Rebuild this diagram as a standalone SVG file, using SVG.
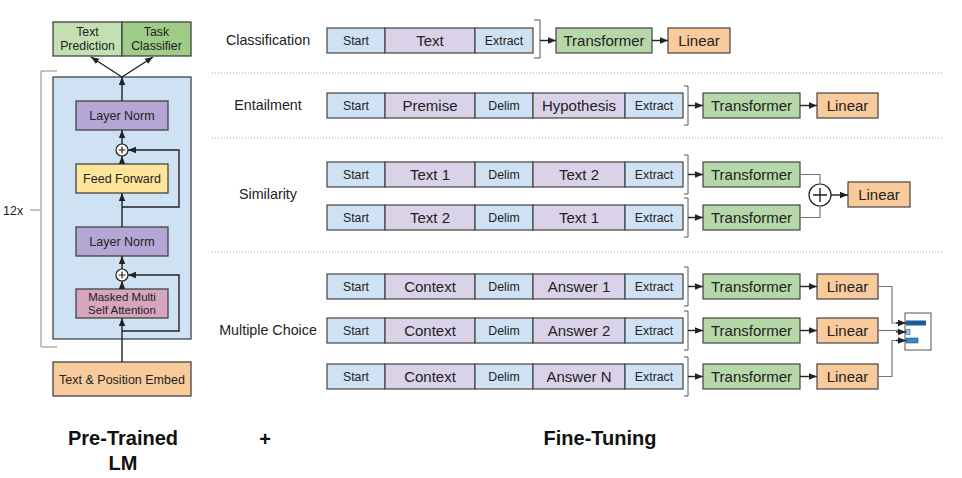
<svg xmlns="http://www.w3.org/2000/svg" width="962" height="478" viewBox="0 0 962 478">
<style>
  text { font-family: "Liberation Sans", Arial, sans-serif; fill: #222; }
  .box { stroke: #434343; stroke-width: 1.3; }
  .seg { fill: #cfe2f3; stroke: #434343; stroke-width: 1.2; }
  .segp { fill: #d9d2e9; stroke: #434343; stroke-width: 1.2; }
  .tr { fill: #b6d7a8; stroke: #434343; stroke-width: 1.2; }
  .lin { fill: #f9cb9c; stroke: #434343; stroke-width: 1.2; }
  .s12 { font-size: 12.3px; }
  .s14 { font-size: 15px; }
  .s13 { font-size: 12.5px; }
  .lbl { font-size: 14.3px; }
  .title { font-size: 20px; font-weight: bold; fill: #111; }
  .conn { fill: none; stroke: #222; stroke-width: 1.4; }
  .gconn { fill: none; stroke: #777; stroke-width: 1.2; }
  .brk { fill: none; stroke: #555; stroke-width: 1; }
  .sep { stroke: #aaa; stroke-width: 1; stroke-dasharray: 1 2; }
</style>
<defs>
  <marker id="ah" viewBox="0 0 10 10" refX="10" refY="5" markerWidth="8" markerHeight="8" markerUnits="userSpaceOnUse" orient="auto">
    <path d="M0,1 L10,5 L0,9 Z" fill="#222"/>
  </marker>
</defs>

<!-- ===== Left: pre-trained LM ===== -->
<g id="outputs">
  <rect x="53" y="22" width="69" height="34" fill="#c3e0b3" class="box"/>
  <rect x="122" y="22" width="69" height="34" fill="#9fcc87" class="box"/>
  <text x="87.5" y="36" text-anchor="middle" class="s12">Text</text>
  <text x="87.5" y="50" text-anchor="middle" class="s12">Prediction</text>
  <text x="156.5" y="36" text-anchor="middle" class="s12">Task</text>
  <text x="156.5" y="50" text-anchor="middle" class="s12">Classifier</text>
</g>
<g id="repeat-bracket">
  <path d="M57,71 H41 V347 H57" fill="none" stroke="#888" stroke-width="1"/>
  <line x1="30" y1="210" x2="40" y2="210" stroke="#888" stroke-width="1"/>
  <text x="3" y="214.5" font-size="12.5" fill="#333">12x</text>
</g>
<g id="block">
  <rect x="53" y="77" width="138" height="262" fill="#cfe2f3" class="box"/>
</g>
<g id="layernorm2">
  <rect x="76" y="101" width="92" height="29" fill="#b4a7d6" class="box"/>
  <text x="122" y="120" text-anchor="middle" class="s13">Layer Norm</text>
</g>
<g id="add2">
  <circle cx="122" cy="150" r="6" fill="#fff" stroke="#222" stroke-width="1.2"/>
  <path d="M118.5,150 H125.5 M122,146.5 V153.5" stroke="#222" stroke-width="1.2"/>
</g>
<g id="feedforward">
  <rect x="76" y="164" width="92" height="29" fill="#ffe599" class="box"/>
  <text x="122" y="183" text-anchor="middle" class="s13">Feed Forward</text>
</g>
<g id="layernorm1">
  <rect x="76" y="227" width="92" height="29" fill="#b4a7d6" class="box"/>
  <text x="122" y="246" text-anchor="middle" class="s13">Layer Norm</text>
</g>
<g id="add1">
  <circle cx="122" cy="275" r="6" fill="#fff" stroke="#222" stroke-width="1.2"/>
  <path d="M118.5,275 H125.5 M122,271.5 V278.5" stroke="#222" stroke-width="1.2"/>
</g>
<g id="attention">
  <rect x="76" y="289" width="92" height="29" fill="#d5a6bd" class="box"/>
  <text x="122" y="301" text-anchor="middle" font-size="11.5">Masked Multi</text>
  <text x="122" y="314" text-anchor="middle" font-size="11.5">Self Attention</text>
</g>
<g id="embed">
  <rect x="53" y="362" width="138" height="34" fill="#f9cb9c" class="box"/>
  <text x="122" y="383.5" text-anchor="middle" class="s13">Text &amp; Position Embed</text>
</g>

<g id="left-connectors">
  <line x1="122" y1="362" x2="122" y2="318" class="conn" marker-end="url(#ah)"/>
  <line x1="122" y1="289" x2="122" y2="281" class="conn" marker-end="url(#ah)"/>
  <path d="M122,331 H179 V275 H128" class="conn" marker-end="url(#ah)"/>
  <line x1="122" y1="269" x2="122" y2="256" class="conn" marker-end="url(#ah)"/>
  <line x1="122" y1="227" x2="122" y2="193" class="conn" marker-end="url(#ah)"/>
  <path d="M122,207 H179 V150 H128" class="conn" marker-end="url(#ah)"/>
  <line x1="122" y1="164" x2="122" y2="156" class="conn" marker-end="url(#ah)"/>
  <line x1="122" y1="144" x2="122" y2="130" class="conn" marker-end="url(#ah)"/>
  <line x1="122" y1="101" x2="122" y2="77" class="conn" marker-end="url(#ah)"/>
  <line x1="122" y1="77" x2="91" y2="57" class="conn" marker-end="url(#ah)"/>
  <line x1="122" y1="77" x2="153" y2="57" class="conn" marker-end="url(#ah)"/>
</g>

<!-- ===== Separators ===== -->
<g id="separators">
  <line x1="212" y1="73" x2="942" y2="73" class="sep"/>
  <line x1="212" y1="138" x2="942" y2="138" class="sep"/>
  <line x1="212" y1="252" x2="942" y2="252" class="sep"/>
</g>

<!-- ===== Task labels ===== -->
<g id="task-labels">
  <text x="268" y="45" text-anchor="middle" class="lbl">Classification</text>
  <text x="268" y="110" text-anchor="middle" class="lbl">Entailment</text>
  <text x="268" y="199" text-anchor="middle" class="lbl">Similarity</text>
  <text x="268" y="335" text-anchor="middle" class="lbl">Multiple Choice</text>
</g>

<!-- ===== Classification ===== -->
<g id="cls-input">
  <rect x="327" y="28" width="58" height="25" class="seg"/>
  <rect x="385" y="28" width="90" height="25" class="segp"/>
  <rect x="475" y="28" width="58" height="25" class="seg"/>
  <text x="356" y="45" text-anchor="middle" class="s12">Start</text>
  <text x="430" y="46" text-anchor="middle" class="s14">Text</text>
  <text x="504" y="45" text-anchor="middle" class="s12">Extract</text>
</g>
<g id="cls-transformer">
  <rect x="556" y="28" width="96" height="25" class="tr"/>
  <text x="604" y="46" text-anchor="middle" class="s14">Transformer</text>
</g>
<g id="cls-linear">
  <rect x="668" y="28" width="62" height="25" class="lin"/>
  <text x="699" y="46" text-anchor="middle" class="s14">Linear</text>
</g>

<!-- ===== Entailment ===== -->
<g id="ent-input">
  <rect x="327" y="93" width="58" height="25" class="seg"/>
  <rect x="385" y="93" width="90" height="25" class="segp"/>
  <rect x="475" y="93" width="58" height="25" class="seg"/>
  <rect x="533" y="93" width="92" height="25" class="segp"/>
  <rect x="625" y="93" width="58" height="25" class="seg"/>
  <text x="356" y="110" text-anchor="middle" class="s12">Start</text>
  <text x="430" y="111" text-anchor="middle" class="s14">Premise</text>
  <text x="504" y="110" text-anchor="middle" class="s12">Delim</text>
  <text x="579" y="111" text-anchor="middle" class="s14">Hypothesis</text>
  <text x="654" y="110" text-anchor="middle" class="s12">Extract</text>
</g>
<g id="ent-transformer">
  <rect x="703" y="93" width="97" height="25" class="tr"/>
  <text x="751.5" y="111" text-anchor="middle" class="s14">Transformer</text>
</g>
<g id="ent-linear">
  <rect x="817" y="93" width="61" height="25" class="lin"/>
  <text x="847.5" y="111" text-anchor="middle" class="s14">Linear</text>
</g>

<!-- ===== Similarity ===== -->
<g id="sim-input1">
  <rect x="327" y="162" width="58" height="25" class="seg"/>
  <rect x="385" y="162" width="90" height="25" class="segp"/>
  <rect x="475" y="162" width="58" height="25" class="seg"/>
  <rect x="533" y="162" width="92" height="25" class="segp"/>
  <rect x="625" y="162" width="58" height="25" class="seg"/>
  <text x="356" y="179" text-anchor="middle" class="s12">Start</text>
  <text x="430" y="180" text-anchor="middle" class="s14">Text 1</text>
  <text x="504" y="179" text-anchor="middle" class="s12">Delim</text>
  <text x="579" y="180" text-anchor="middle" class="s14">Text 2</text>
  <text x="654" y="179" text-anchor="middle" class="s12">Extract</text>
</g>
<g id="sim-input2">
  <rect x="327" y="205" width="58" height="25" class="seg"/>
  <rect x="385" y="205" width="90" height="25" class="segp"/>
  <rect x="475" y="205" width="58" height="25" class="seg"/>
  <rect x="533" y="205" width="92" height="25" class="segp"/>
  <rect x="625" y="205" width="58" height="25" class="seg"/>
  <text x="356" y="222" text-anchor="middle" class="s12">Start</text>
  <text x="430" y="223" text-anchor="middle" class="s14">Text 2</text>
  <text x="504" y="222" text-anchor="middle" class="s12">Delim</text>
  <text x="579" y="223" text-anchor="middle" class="s14">Text 1</text>
  <text x="654" y="222" text-anchor="middle" class="s12">Extract</text>
</g>
<g id="sim-transformer1">
  <rect x="703" y="162" width="97" height="25" class="tr"/>
  <text x="751.5" y="180" text-anchor="middle" class="s14">Transformer</text>
</g>
<g id="sim-transformer2">
  <rect x="703" y="205" width="97" height="25" class="tr"/>
  <text x="751.5" y="223" text-anchor="middle" class="s14">Transformer</text>
</g>
<g id="sim-add">
  <circle cx="820" cy="195" r="11" fill="#fff" stroke="#222" stroke-width="1.2"/>
  <path d="M813,195 H827 M820,188 V202" stroke="#222" stroke-width="1.4"/>
</g>
<g id="sim-linear">
  <rect x="848" y="182" width="62" height="25" class="lin"/>
  <text x="879" y="200" text-anchor="middle" class="s14">Linear</text>
</g>

<!-- ===== Multiple choice ===== -->
<g id="mc-input1">
  <rect x="327" y="274" width="58" height="25" class="seg"/>
  <rect x="385" y="274" width="90" height="25" class="segp"/>
  <rect x="475" y="274" width="58" height="25" class="seg"/>
  <rect x="533" y="274" width="92" height="25" class="segp"/>
  <rect x="625" y="274" width="58" height="25" class="seg"/>
  <text x="356" y="291" text-anchor="middle" class="s12">Start</text>
  <text x="430" y="292" text-anchor="middle" class="s14">Context</text>
  <text x="504" y="291" text-anchor="middle" class="s12">Delim</text>
  <text x="579" y="292" text-anchor="middle" class="s14">Answer 1</text>
  <text x="654" y="291" text-anchor="middle" class="s12">Extract</text>
</g>
<g id="mc-input2">
  <rect x="327" y="318" width="58" height="25" class="seg"/>
  <rect x="385" y="318" width="90" height="25" class="segp"/>
  <rect x="475" y="318" width="58" height="25" class="seg"/>
  <rect x="533" y="318" width="92" height="25" class="segp"/>
  <rect x="625" y="318" width="58" height="25" class="seg"/>
  <text x="356" y="335" text-anchor="middle" class="s12">Start</text>
  <text x="430" y="336" text-anchor="middle" class="s14">Context</text>
  <text x="504" y="335" text-anchor="middle" class="s12">Delim</text>
  <text x="579" y="336" text-anchor="middle" class="s14">Answer 2</text>
  <text x="654" y="335" text-anchor="middle" class="s12">Extract</text>
</g>
<g id="mc-input3">
  <rect x="327" y="364" width="58" height="25" class="seg"/>
  <rect x="385" y="364" width="90" height="25" class="segp"/>
  <rect x="475" y="364" width="58" height="25" class="seg"/>
  <rect x="533" y="364" width="92" height="25" class="segp"/>
  <rect x="625" y="364" width="58" height="25" class="seg"/>
  <text x="356" y="381" text-anchor="middle" class="s12">Start</text>
  <text x="430" y="382" text-anchor="middle" class="s14">Context</text>
  <text x="504" y="381" text-anchor="middle" class="s12">Delim</text>
  <text x="579" y="382" text-anchor="middle" class="s14">Answer N</text>
  <text x="654" y="381" text-anchor="middle" class="s12">Extract</text>
</g>
<g id="mc-transformer1">
  <rect x="703" y="274" width="97" height="25" class="tr"/>
  <text x="751.5" y="292" text-anchor="middle" class="s14">Transformer</text>
</g>
<g id="mc-transformer2">
  <rect x="703" y="318" width="97" height="25" class="tr"/>
  <text x="751.5" y="336" text-anchor="middle" class="s14">Transformer</text>
</g>
<g id="mc-transformer3">
  <rect x="703" y="364" width="97" height="25" class="tr"/>
  <text x="751.5" y="382" text-anchor="middle" class="s14">Transformer</text>
</g>
<g id="mc-linear1">
  <rect x="817" y="274" width="61" height="25" class="lin"/>
  <text x="847.5" y="292" text-anchor="middle" class="s14">Linear</text>
</g>
<g id="mc-linear2">
  <rect x="817" y="318" width="61" height="25" class="lin"/>
  <text x="847.5" y="336" text-anchor="middle" class="s14">Linear</text>
</g>
<g id="mc-linear3">
  <rect x="817" y="364" width="61" height="25" class="lin"/>
  <text x="847.5" y="382" text-anchor="middle" class="s14">Linear</text>
</g>
<g id="mc-softmax">
  <rect x="905" y="313" width="26" height="37" fill="#fff" stroke="#555" stroke-width="1"/>
  <rect x="906" y="320.5" width="20" height="5" fill="#1c5a99"/>
  <rect x="906" y="329.5" width="4" height="5" fill="#9fc5e8" stroke="#1c5a99" stroke-width="0.6"/>
  <rect x="906" y="338" width="12" height="5" fill="#3d85c6" stroke="#1c5a99" stroke-width="0.6"/>
</g>

<!-- ===== Connectors (right) ===== -->
<g id="connectors">
  <path d="M534,20 H540 V58 H534" class="brk"/>
  <line x1="540" y1="40.5" x2="556" y2="40.5" class="conn" marker-end="url(#ah)"/>
  <line x1="652" y1="40.5" x2="668" y2="40.5" class="conn" marker-end="url(#ah)"/>

  <path d="M684,86 H688 V125 H684" class="brk"/>
  <line x1="688" y1="105.5" x2="703" y2="105.5" class="conn" marker-end="url(#ah)"/>
  <line x1="800" y1="105.5" x2="817" y2="105.5" class="conn" marker-end="url(#ah)"/>

  <path d="M684,155 H688 V194 H684" class="brk"/>
  <line x1="688" y1="174.5" x2="703" y2="174.5" class="conn" marker-end="url(#ah)"/>
  <path d="M684,198 H688 V237 H684" class="brk"/>
  <line x1="688" y1="217.5" x2="703" y2="217.5" class="conn" marker-end="url(#ah)"/>
  <path d="M800,174.5 H820 V184" class="gconn"/>
  <path d="M800,217.5 H820 V206" class="gconn"/>
  <line x1="831" y1="195" x2="848" y2="195" class="conn" marker-end="url(#ah)"/>

  <path d="M684,267 H688 V306 H684" class="brk"/>
  <line x1="688" y1="286.5" x2="703" y2="286.5" class="conn" marker-end="url(#ah)"/>
  <line x1="800" y1="286.5" x2="817" y2="286.5" class="conn" marker-end="url(#ah)"/>
  <path d="M684,311 H688 V350 H684" class="brk"/>
  <line x1="688" y1="330.5" x2="703" y2="330.5" class="conn" marker-end="url(#ah)"/>
  <line x1="800" y1="330.5" x2="817" y2="330.5" class="conn" marker-end="url(#ah)"/>
  <path d="M684,357 H688 V396 H684" class="brk"/>
  <line x1="688" y1="376.5" x2="703" y2="376.5" class="conn" marker-end="url(#ah)"/>
  <line x1="800" y1="376.5" x2="817" y2="376.5" class="conn" marker-end="url(#ah)"/>

  <path d="M878,286.5 H892 V323 H898" class="gconn"/>
  <line x1="896" y1="323" x2="906" y2="323" class="conn" marker-end="url(#ah)"/>
  <path d="M878,330.5 H898" class="gconn"/>
  <line x1="896" y1="332" x2="906" y2="332" class="conn" marker-end="url(#ah)"/>
  <path d="M878,376.5 H892 V340.5 H898" class="gconn"/>
  <line x1="896" y1="340.5" x2="906" y2="340.5" class="conn" marker-end="url(#ah)"/>
</g>

<!-- ===== Titles ===== -->
<g id="titles">
  <text x="123" y="445" text-anchor="middle" class="title">Pre-Trained</text>
  <text x="123" y="470" text-anchor="middle" class="title">LM</text>
  <text x="265" y="446" text-anchor="middle" class="title">+</text>
  <text x="600" y="445" text-anchor="middle" class="title">Fine-Tuning</text>
</g>
</svg>
